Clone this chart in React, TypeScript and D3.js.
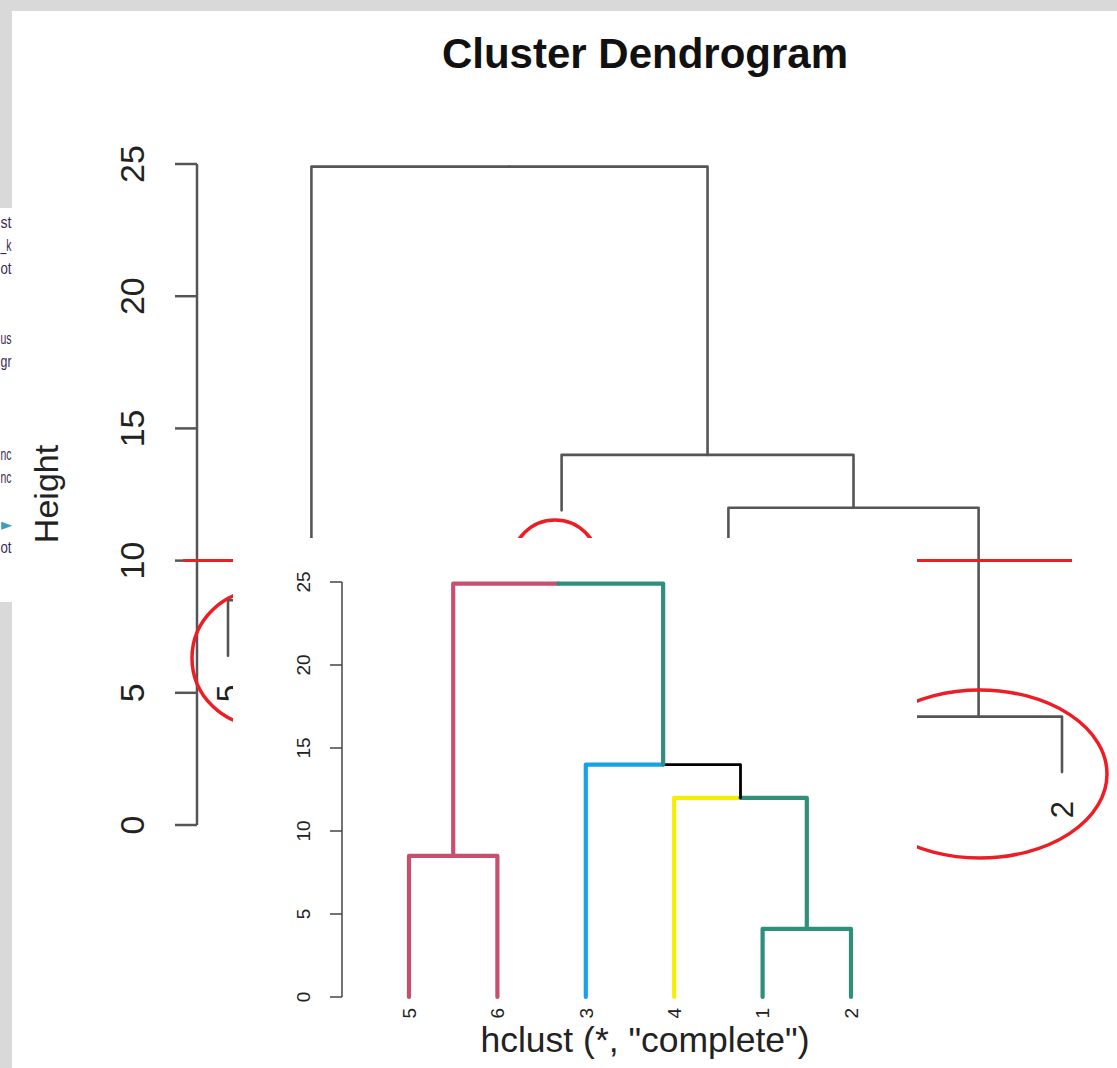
import React from "react";
import * as d3 from "d3";

// leaves in plotted order
const leafOrder = ["5", "6", "3", "4", "1", "2"];
// merges: id, left child, right child, height
const mergeIds = ["m1", "m2", "m3", "m4", "m5"];
const mergeLeft = ["1", "5", "4", "3", "m2"];
const mergeRight = ["2", "6", "m1", "m3", "m4"];
const mergeHeights = [4.1, 8.5, 12.0, 14.0, 24.9];
const heightTicks = [0, 5, 10, 15, 20, 25];
const cutHeight = 10;
const hang = 2.1; // leaves hang below their merge in the back plot

// colours of the inset's branches, keyed by the child node
const branchChild = ["m2", "5", "6", "m4", "3", "m3", "4", "m1", "1", "2"];
const branchColor = [
  "#c8506e", "#c8506e", "#c8506e",
  "#2f8f7b", "#16a2e4", "#000000", "#f5ee00",
  "#2f8f7b", "#2f8f7b", "#2f8f7b",
];

// ends of code lines peeking in at the left edge
const codeBits = ["st", "_k", "ot", "", "", "us", "gr", "", "", "", "nc", "nc", "", "\u25B8", "ot"];

const FONT = "'Liberation Sans', Arial, Helvetica, sans-serif";

type Edge = { px: string; ph: number; child: string; ch: number | null };

function buildTree() {
  const pos: Record<string, number> = {};
  const hgt: Record<string, number> = {};
  leafOrder.forEach((l, i) => { pos[l] = i; });
  mergeIds.forEach((id, i) => {
    pos[id] = (pos[mergeLeft[i]] + pos[mergeRight[i]]) / 2;
    hgt[id] = mergeHeights[i];
  });
  const edges: Edge[] = [];
  mergeIds.forEach((id, i) => {
    [mergeLeft[i], mergeRight[i]].forEach((c) => {
      edges.push({ px: id, ph: mergeHeights[i], child: c, ch: c in hgt ? hgt[c] : null });
    });
  });
  return { pos, edges };
}

function Dendro({ x0, x1, y0, y1, hangLeaves, colored, stroke, width }: any) {
  const { pos, edges } = buildTree();
  const x = d3.scaleLinear().domain([0, leafOrder.length - 1]).range([x0, x1]);
  const y = d3.scaleLinear().domain([0, 25]).range([y0, y1]);
  return (
    <g fill="none" strokeLinecap="round" strokeLinejoin="round">
      {edges.map((e, i) => {
        const ch = e.ch !== null ? e.ch : hangLeaves ? e.ph - hang : 0;
        const d = `M${x(pos[e.px])},${y(e.ph)}H${x(pos[e.child])}V${y(ch)}`;
        const col = colored ? branchColor[branchChild.indexOf(e.child)] : stroke;
        const w = colored && col === "#000000" ? width - 1.4 : width;
        return <path key={i} d={d} stroke={col} strokeWidth={w} />;
      })}
    </g>
  );
}

function Axis({ ax, tick, labelX, y0, y1, size, color, width }: any) {
  const y = d3.scaleLinear().domain([0, 25]).range([y0, y1]);
  return (
    <g>
      <line x1={ax} x2={ax} y1={y(0)} y2={y(25)} stroke={color} strokeWidth={width} />
      {heightTicks.map((t) => (
        <g key={t}>
          <line x1={ax - tick} x2={ax} y1={y(t)} y2={y(t)} stroke={color} strokeWidth={width} />
          <text
            transform={`translate(${labelX},${y(t)}) rotate(-90)`}
            textAnchor="middle"
            dy="0.36em"
            fontSize={size}
            fill="#222"
          >
            {t}
          </text>
        </g>
      ))}
    </g>
  );
}

export default function App() {
  const { pos } = buildTree();
  const xB = d3.scaleLinear().domain([0, leafOrder.length - 1]).range([228, 1062]);
  const yB = d3.scaleLinear().domain([0, 25]).range([825, 164]);
  const xI = d3.scaleLinear().domain([0, leafOrder.length - 1]).range([409, 851]);
  const leafParentH: Record<string, number> = {};
  mergeIds.forEach((id, i) => {
    leafParentH[mergeLeft[i]] = mergeHeights[i];
    leafParentH[mergeRight[i]] = mergeHeights[i];
  });

  return (
    <svg
      width={1117}
      height={1068}
      style={{ position: "absolute", left: 0, top: 0, display: "block" }}
      fontFamily={FONT}
    >
      <rect x={0} y={0} width={1117} height={1068} fill="#ffffff" />
      {/* grey window frame */}
      <rect x={0} y={0} width={1117} height={11} fill="#d9d9d9" />
      <rect x={0} y={0} width={12} height={208} fill="#d9d9d9" />
      <rect x={0} y={602} width={12} height={466} fill="#d9d9d9" />
      <g fontSize={16}>
        {codeBits.map((c, i) =>
          c ? (
            <text
              key={i}
              x={0.5}
              y={228 + i * 23.2}
              textLength={11}
              lengthAdjust="spacingAndGlyphs"
              fill={c === "\u25B8" ? "#3aa0b8" : "#3a2c55"}
            >
              {c}
            </text>
          ) : null
        )}
      </g>

      {/* back plot */}
      <text x={645} y={68} textAnchor="middle" fontSize={42} fontWeight="bold" fill="#111">
        Cluster Dendrogram
      </text>
      <text transform={`translate(46,494) rotate(-90)`} textAnchor="middle" dy="0.36em" fontSize={34} fill="#222">
        Height
      </text>
      <Axis ax={197} tick={22} labelX={132} y0={825} y1={164} size={34} color="#555" width={2.5} />
      <Dendro x0={228} x1={1062} y0={825} y1={164} hangLeaves={true} colored={false} stroke="#555" width={2.6} />
      {leafOrder.map((l) => (
        <text
          key={l}
          transform={`translate(${xB(pos[l])},${yB(leafParentH[l] - hang) + 29}) rotate(-90)`}
          textAnchor="end"
          dy="0.36em"
          fontSize={31}
          fill="#222"
        >
          {l}
        </text>
      ))}

      {/* red annotations */}
      <g fill="none" stroke="#ee1c24" strokeWidth={3.5}>
        <line x1={183} x2={1072} y1={yB(cutHeight)} y2={yB(cutHeight)} strokeWidth={3} />
        <ellipse cx={262} cy={658} rx={70} ry={68} />
        <circle cx={555} cy={563} r={43} />
        <ellipse cx={980} cy={774} rx={127} ry={84} />
      </g>

      {/* pasted coloured dendrogram */}
      <rect x={233} y={538} width={684} height={530} fill="#ffffff" />
      <Axis ax={342} tick={12} labelX={303} y0={997} y1={582} size={19} color="#444" width={1.5} />
      <Dendro x0={409} x1={851} y0={997} y1={582} hangLeaves={false} colored={true} stroke="#000" width={4.2} />
      {leafOrder.map((l) => (
        <text
          key={l}
          transform={`translate(${xI(pos[l])},${1008}) rotate(-90)`}
          textAnchor="end"
          dy="0.36em"
          fontSize={19}
          fill="#222"
        >
          {l}
        </text>
      ))}
      <text x={645} y={1052} textAnchor="middle" fontSize={35.5} fill="#222">
        hclust (*, "complete")
      </text>
    </svg>
  );
}
